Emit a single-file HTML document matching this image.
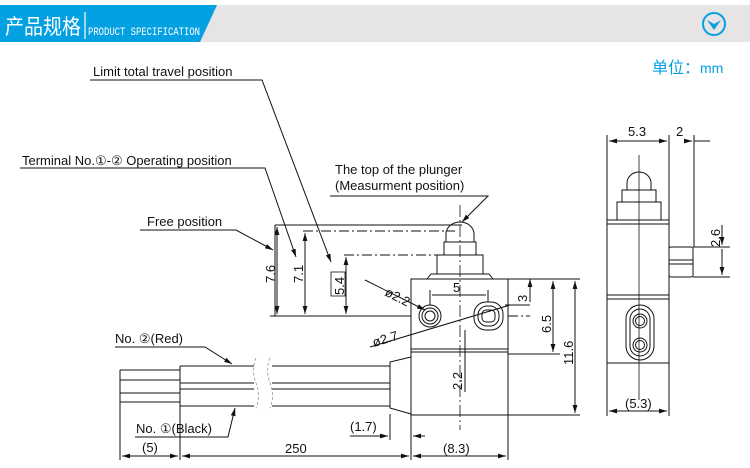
<!DOCTYPE html>
<html><head><meta charset="utf-8"><style>
html,body{margin:0;padding:0;background:#fff;}
svg{display:block;font-family:"Liberation Sans",Arial,sans-serif;}
</style></head><body>
<svg width="750" height="468" viewBox="0 0 750 468" xmlns="http://www.w3.org/2000/svg">
<defs>
<marker id="a" viewBox="0 0 10 6" refX="10" refY="3" markerWidth="8" markerHeight="5" orient="auto-start-reverse" markerUnits="userSpaceOnUse"><path d="M0,0 L10,3 L0,6z" fill="#111"/></marker>
</defs>
<!-- header -->
<rect x="0" y="5" width="750" height="37" fill="#e6e4e5"/>
<polygon points="0,5 217,5 200,42 0,42" fill="#03a0e2"/>
<text x="5" y="34" font-size="21" fill="#fff" font-family="'Noto Sans CJK SC',sans-serif" textLength="76" lengthAdjust="spacingAndGlyphs">产品规格</text>
<line x1="85" y1="12" x2="85" y2="39" stroke="#fff" stroke-width="1.2"/>
<text x="88" y="35" font-size="11" fill="#fff" font-family="'Liberation Mono',monospace" textLength="112" lengthAdjust="spacingAndGlyphs">PRODUCT SPECIFICATION</text>
<circle cx="714" cy="24" r="11" fill="none" stroke="#03a0e2" stroke-width="2"/>
<path d="M707,20 L714,30 L721,20 L714,24z" fill="#03a0e2"/>
<text x="652" y="73" font-size="16" fill="#03a0e2" font-family="'Noto Sans CJK SC',sans-serif">单位：<tspan font-family="'Liberation Sans',sans-serif" font-size="14">mm</tspan></text>

<g fill="none" stroke="#111" stroke-width="1">
<!-- leaders -->
<path d="M90,80 L262,80 L331,262" marker-end="url(#a)"/>
<path d="M20,168 L265,168 L296,257" marker-end="url(#a)"/>
<path d="M140,230 L236,230 L273,250" marker-end="url(#a)"/>
<path d="M330,196 L488,196 L462,222" marker-end="url(#a)"/>
<path d="M115,347 L205,347 L232,364" marker-end="url(#a)"/>
<path d="M135,437 L228,437 L235,408" marker-end="url(#a)"/>
<!-- plunger -->
<path d="M446,242 L446,234 A14,12 0 0 1 474,234 L474,242 Z"/>
<rect x="444" y="242" width="32" height="13"/>
<rect x="437" y="255" width="46" height="19"/>
<path d="M427,279 L431,274 L489,274 L493,279"/>
<!-- body -->
<rect x="411" y="279" width="97" height="70"/>
<rect x="411" y="349" width="97" height="3"/>
<rect x="411" y="352" width="97" height="63"/>
<path d="M411,357 L390,362 L390,408 L411,414"/>
<!-- holes -->
<circle cx="430" cy="316" r="11"/><circle cx="430" cy="316" r="8"/><circle cx="430" cy="316" r="5"/>
<rect x="474" y="302" width="29" height="28" rx="12"/><rect x="478" y="306" width="21" height="20" rx="9"/><rect x="482" y="310" width="13" height="12" rx="4"/>
<!-- cables -->
<path d="M180,366 L254,366 M272,366 L390,366 M180,383 L254,383 M272,383 L390,383 M180,389 L254,389 M272,389 L390,389 M180,406 L254,406 M272,406 L390,406"/>
<path d="M120,370 L180,370 M120,380 L180,380 M120,393 L180,393 M120,402 L180,402 M180,366 L180,406"/>
<path d="M120,370 L120,460 M180,406 L180,460 M411,415 L411,460 M508,415 L508,460 M390,414 L390,440"/>
<!-- dim lines -->
<path d="M122,456 L178,456" marker-start="url(#a)" marker-end="url(#a)"/>
<path d="M182,456 L409,456" marker-start="url(#a)" marker-end="url(#a)"/>
<path d="M413,456 L506,456" marker-start="url(#a)" marker-end="url(#a)"/>
<path d="M350,436 L388,436" marker-end="url(#a)"/>
<path d="M425,436 L413,436" marker-end="url(#a)"/>
<path d="M508,279 L580,279 M508,354 L560,354 M508,415 L580,415"/>
<path d="M553,281 L553,352" marker-start="url(#a)" marker-end="url(#a)"/>
<path d="M575,281 L575,413" marker-start="url(#a)" marker-end="url(#a)"/>
<path d="M462,225 L275,225 M275,225 L275,316 M270,316 L411,316"/>
<path d="M277,227 L277,314" marker-start="url(#a)" marker-end="url(#a)"/>
<path d="M305,233 L305,314" marker-start="url(#a)" marker-end="url(#a)"/>
<path d="M346,257 L346,314" marker-start="url(#a)" marker-end="url(#a)"/>
<path d="M303,231 L455,231 M344,255 L437,255" stroke-dasharray="10,3,2,3"/>
<path d="M508,316 L530,316" stroke-dasharray="10,3,2,3"/>
<path d="M460,205 L460,430" stroke-dasharray="12,3,2,3" stroke-width="0.8"/>
<path d="M430,290 L430,305 M488,290 L488,302 M432,295 L486,295" />
<path d="M530,279 L530,302" marker-start="url(#a)"/>
<path d="M505,305 L530,305"/>
<path d="M365,280 L425,310" marker-end="url(#a)"/>
<path d="M370,347 L510,305" />
<path d="M465,330 L465,392" />
<!-- right view -->
<path d="M607,135 L607,416 M669,135 L669,220 M694,135 L694,247"/>
<path d="M609,141 L667,141" marker-start="url(#a)" marker-end="url(#a)"/>
<path d="M694,141 L710,141 M686,141 L692,141" marker-end="url(#a)"/>
<path d="M627,190 L627,183 A12,11 0 0 1 651,183 L651,190 Z"/>
<rect x="622" y="190" width="34" height="12"/>
<rect x="617" y="202" width="44" height="18"/>
<rect x="607" y="220" width="62" height="4"/>
<rect x="607" y="224" width="62" height="71"/>
<rect x="607" y="295" width="62" height="4"/>
<rect x="607" y="299" width="62" height="64"/>
<path d="M607,363 L669,363 L669,416"/>
<rect x="669" y="247" width="24" height="30" rx="2"/>
<path d="M669,260 L693,260 M669,264 L693,264"/>
<rect x="626" y="305" width="28" height="55" rx="14"/>
<rect x="630" y="309" width="20" height="47" rx="10"/>
<circle cx="640" cy="321" r="7"/><circle cx="640" cy="321" r="4.5"/>
<circle cx="640" cy="345" r="7"/><circle cx="640" cy="345" r="4.5"/>
<path d="M639,155 L639,400" stroke-width="0.8"/>
<path d="M693,247 L730,247 M693,277 L730,277"/>
<path d="M722,225 L722,245" marker-end="url(#a)"/><path d="M722,275 L722,249" marker-start="url(#a)"/>
<path d="M609,411 L667,411" marker-start="url(#a)" marker-end="url(#a)"/>
</g>
<path d="M256,358 q-5,12 0,25 q5,12 0,25 M270,358 q-5,12 0,25 q5,12 0,25" fill="none" stroke="#888" stroke-width="0.7" stroke-dasharray="3,2"/>

<g font-size="13" fill="#111">
<text x="93" y="76">Limit total travel position</text>
<text x="22" y="165">Terminal No.①-② Operating position</text>
<text x="147" y="226">Free position</text>
<text x="335" y="174">The top of the plunger</text>
<text x="335" y="190">(Measurment position)</text>
<text x="115" y="343">No. ②(Red)</text>
<text x="136" y="433">No. ①(Black)</text>
<text x="142" y="452">(5)</text>
<text x="285" y="453">250</text>
<text x="350" y="431">(1.7)</text>
<text x="443" y="453">(8.3)</text>
<text x="453" y="292">5</text>
<text x="628" y="136">5.3</text>
<text x="676" y="136">2</text>
<text x="625" y="408">(5.3)</text>
<text transform="translate(275,283) rotate(-90)">7.6</text>
<text transform="translate(303,283) rotate(-90)">7.1</text>
<text transform="translate(344,295) rotate(-90)">5.4</text>
<text transform="translate(551,333) rotate(-90)">6.5</text>
<text transform="translate(573,365) rotate(-90)">11.6</text>
<text transform="translate(527,302) rotate(-90)">3</text>
<text transform="translate(462,390) rotate(-90)">2.2</text>
<text transform="translate(720,247) rotate(-90)">2.6</text>
<text transform="translate(384,295) rotate(27)">ø2.2</text>
<text transform="translate(374,347) rotate(-17)">ø2.7</text>
</g>
<rect x="331" y="272" width="14" height="24" fill="none" stroke="#111" stroke-width="0.8"/>
</svg>
</body></html>
